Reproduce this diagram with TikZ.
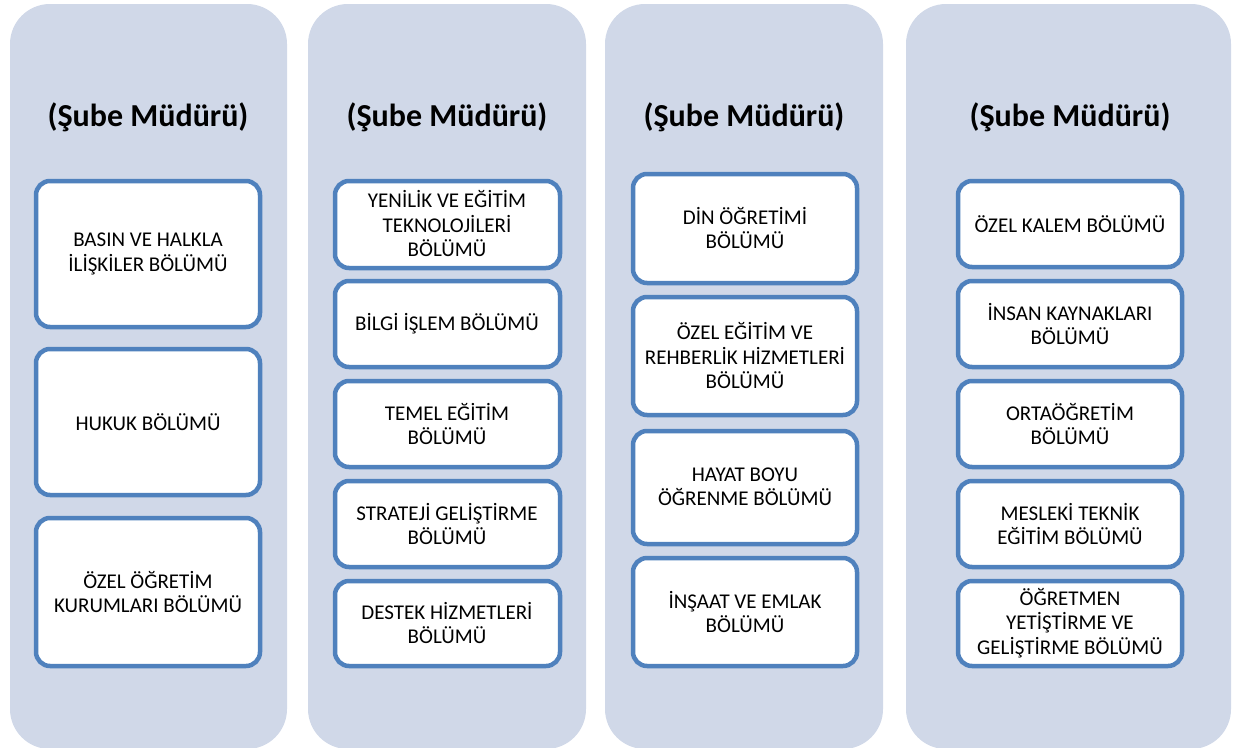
\documentclass[tikz,border=0pt]{standalone}
\usepackage{fontspec}
\setmainfont{Carlito}
\definecolor{panelbg}{RGB}{208,216,232}
\definecolor{boxline}{RGB}{79,129,189}
\tikzset{
  panel/.style={fill=panelbg, draw=none, rounded corners=40pt},
  unitbox/.style={fill=white, draw=boxline, line width=4.5pt, rounded corners=14pt},
  unittext/.style={align=center, font=\fontsize{21}{24.5}\selectfont, text=black, inner sep=0pt},
  headtext/.style={font=\fontsize{32}{36}\selectfont\bfseries, text=black, inner sep=0pt}
}
\begin{document}
\begin{tikzpicture}[x=1pt,y=-1pt]
\useasboundingbox (0,0) rectangle (1233,747);
% panels
\fill[panel] (10,4) rectangle (287,749);
\fill[panel] (308,4) rectangle (586,749);
\fill[panel] (605,4) rectangle (883,749);
\fill[panel] (906,4) rectangle (1231,749);
% headers
\node[headtext] (h1) at (148,117) {(Şube Müdürü)};
\node[headtext] (h2) at (447,117) {(Şube Müdürü)};
\node[headtext] (h3) at (744,117) {(Şube Müdürü)};
\node[headtext] (h4) at (1070,117) {(Şube Müdürü)};
% column 1
\draw[unitbox] (36,181) rectangle (260,327);
\node[unittext] (a1) at (148,254) {BASIN VE HALKLA\\İLİŞKİLER BÖLÜMÜ};
\draw[unitbox] (36,349) rectangle (260,495);
\node[unittext] (a2) at (148,422) {HUKUK BÖLÜMÜ};
\draw[unitbox] (36,518) rectangle (260,666);
\node[unittext] (a3) at (148,592) {ÖZEL ÖĞRETİM\\KURUMLARI BÖLÜMÜ};
% column 2
\draw[unitbox] (335,181) rectangle (560,268);
\node[unittext] (b1) at (447,224) {YENİLİK VE EĞİTİM\\TEKNOLOJİLERİ\\BÖLÜMÜ};
\draw[unitbox] (335,281) rectangle (560,367);
\node[unittext] (b2) at (447,324) {BİLGİ İŞLEM BÖLÜMÜ};
\draw[unitbox] (335,381) rectangle (560,467);
\node[unittext] (b3) at (447,424) {TEMEL EĞİTİM\\BÖLÜMÜ};
\draw[unitbox] (335,481) rectangle (560,567);
\node[unittext] (b4) at (447,524) {STRATEJİ GELİŞTİRME\\BÖLÜMÜ};
\draw[unitbox] (335,581) rectangle (560,666);
\node[unittext] (b5) at (447,623) {DESTEK HİZMETLERİ\\BÖLÜMÜ};
% column 3
\draw[unitbox] (633,174) rectangle (857,283);
\node[unittext] (c1) at (745,228) {DİN ÖĞRETİMİ\\BÖLÜMÜ};
\draw[unitbox] (633,297) rectangle (857,415);
\node[unittext] (c2) at (745,356) {ÖZEL EĞİTİM VE\\REHBERLİK HİZMETLERİ\\BÖLÜMÜ};
\draw[unitbox] (633,431) rectangle (857,544);
\node[unittext] (c3) at (745,487) {HAYAT BOYU\\ÖĞRENME BÖLÜMÜ};
\draw[unitbox] (633,558) rectangle (857,666);
\node[unittext] (c4) at (745,612) {İNŞAAT VE EMLAK\\BÖLÜMÜ};
% column 4
\draw[unitbox] (958,181) rectangle (1182,267);
\node[unittext] (d1) at (1070,224) {ÖZEL KALEM BÖLÜMÜ};
\draw[unitbox] (958,281) rectangle (1182,367);
\node[unittext] (d2) at (1070,324) {İNSAN KAYNAKLARI\\BÖLÜMÜ};
\draw[unitbox] (958,381) rectangle (1182,467);
\node[unittext] (d3) at (1070,424) {ORTAÖĞRETİM\\BÖLÜMÜ};
\draw[unitbox] (958,481) rectangle (1182,567);
\node[unittext] (d4) at (1070,524) {MESLEKİ TEKNİK\\EĞİTİM BÖLÜMÜ};
\draw[unitbox] (958,581) rectangle (1182,666);
\node[unittext] (d5) at (1070,623) {ÖĞRETMEN\\YETİŞTİRME VE\\GELİŞTİRME BÖLÜMÜ};
\end{tikzpicture}
\end{document}
